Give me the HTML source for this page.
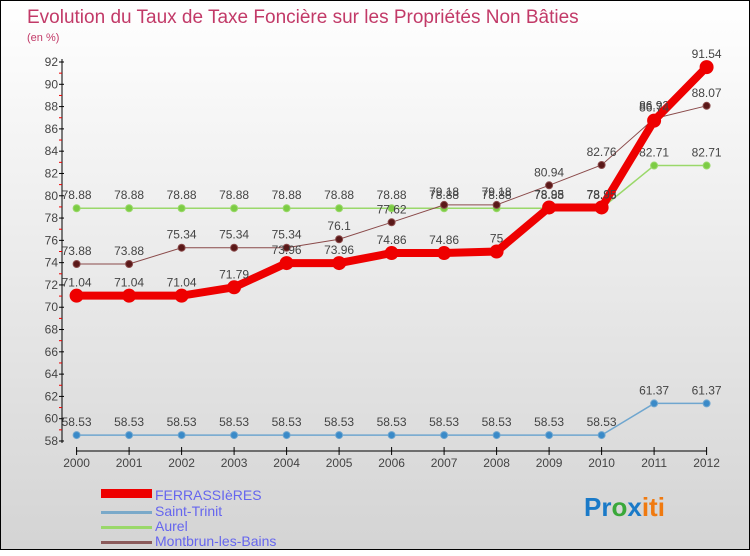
<!DOCTYPE html>
<html><head><meta charset="utf-8"><style>
body{margin:0;width:750px;height:550px;overflow:hidden}
#c{position:absolute;left:0;top:0;width:748px;height:548px;border:1px solid #000;background:linear-gradient(#fff,#d4d4d4)}
text{font-family:"Liberation Sans",sans-serif}
</style></head><body>
<div id="c">
<svg width="750" height="550" id="svg">
<text x="26" y="22" font-size="19" fill="#c23a68">Evolution du Taux de Taxe Foncière sur les Propriétés Non Bâties</text>
<text x="26" y="40" font-size="11" fill="#c23a68">(en %)</text>
<g id="axes"></g><g id="series"></g>
<g>
<rect x="100" y="488" width="51" height="9" fill="#e00"/>
<text x="154" y="499" font-size="14" fill="#6666ee">FERRASSIèRES</text>
<rect x="100" y="510" width="51" height="3" fill="#7aa9c9"/>
<text x="154" y="515" font-size="14" fill="#6666ee">Saint-Trinit</text>
<rect x="100" y="525" width="51" height="3" fill="#9ad86a"/>
<text x="154" y="530" font-size="14" fill="#6666ee">Aurel</text>
<rect x="100" y="540" width="51" height="3" fill="#8a5a5a"/>
<text x="154" y="545" font-size="14" fill="#6666ee">Montbrun-les-Bains</text>
</g>
<text x="583" y="515" font-size="26" font-weight="bold"><tspan fill="#1a7ac8">Pr</tspan><tspan fill="#3aa83a">o</tspan><tspan fill="#1a7ac8">x</tspan><tspan fill="#f07a10">iti</tspan></text>
</svg></div>
<script>
const years=["2000","2001","2002","2003","2004","2005","2006","2007","2008","2009","2010","2011","2012"];
const yTicks=[58,60,62,64,66,68,70,72,74,76,78,80,82,84,86,88,90,92];
const ferrassieres=[71.04,71.04,71.04,71.79,73.96,73.96,74.86,74.86,75,78.95,78.95,86.74,91.54];
const saintTrinit=[58.53,58.53,58.53,58.53,58.53,58.53,58.53,58.53,58.53,58.53,58.53,61.37,61.37];
const aurel=[78.88,78.88,78.88,78.88,78.88,78.88,78.88,78.88,78.88,78.88,78.88,82.71,82.71];
const montbrun=[73.88,73.88,75.34,75.34,75.34,76.1,77.62,79.18,79.18,80.94,82.76,86.92,88.07];
const NS="http://www.w3.org/2000/svg";
const X=i=>75.6+i*52.5, Y=v=>440-(v-58)*379/34;
function mk(t,a,p){const e=document.createElementNS(NS,t);for(const k in a)e.setAttribute(k,a[k]);p.appendChild(e);return e;}
const ax=document.getElementById('axes'), sr=document.getElementById('series');
let l=mk('line',{x1:61,y1:58,x2:61,y2:442,stroke:'#000'},ax);


l=mk('line',{x1:75,y1:450,x2:706,y2:450,stroke:'#000'},ax);


yTicks.forEach(v=>{mk('line',{x1:58,x2:63,y1:Y(v),y2:Y(v),stroke:'#000'},ax);
 if(v<92)mk('line',{x1:58,x2:61,y1:Y(v+1),y2:Y(v+1),stroke:'#e00'},ax);
 const t=mk('text',{x:57,y:Y(v)+4,'font-size':12,'text-anchor':'end',fill:'#444'},ax);t.textContent=v;
 
 });
years.forEach((y,i)=>{mk('line',{x1:X(i),x2:X(i),y1:446,y2:454,stroke:'#000'},ax);
 const t=mk('text',{x:X(i),y:466,'font-size':12,'text-anchor':'middle',fill:'#444'},ax);t.textContent=y;
 
 });
function series(d,col,w,r,dot,name){
 const g=mk('g',{},sr);
 
 
 mk('polyline',{points:d.map((v,i)=>X(i)+','+Y(v)).join(' '),fill:'none',stroke:col,'stroke-width':w},g);
 d.forEach((v,i)=>{const c=mk('circle',{cx:X(i),cy:Y(v),r:r,fill:dot,stroke:col,'stroke-width':1},g);
  
  
  const t=mk('text',{x:X(i),y:Y(v)-9,'font-size':12,'text-anchor':'middle',fill:'#444'},g);t.textContent=v;
  
  });
}
series(saintTrinit,'#6fa6cf',1.5,3.5,'#3a8ac8','saint-trinit');
series(aurel,'#9ad86a',1.5,3.5,'#7ccc44','aurel');
series(montbrun,'#8a4a4a',1,3.5,'#5a1818','montbrun');
series(ferrassieres,'#ee0000',8,6.5,'#ee0000','ferrassieres');
</script>
</body></html>
